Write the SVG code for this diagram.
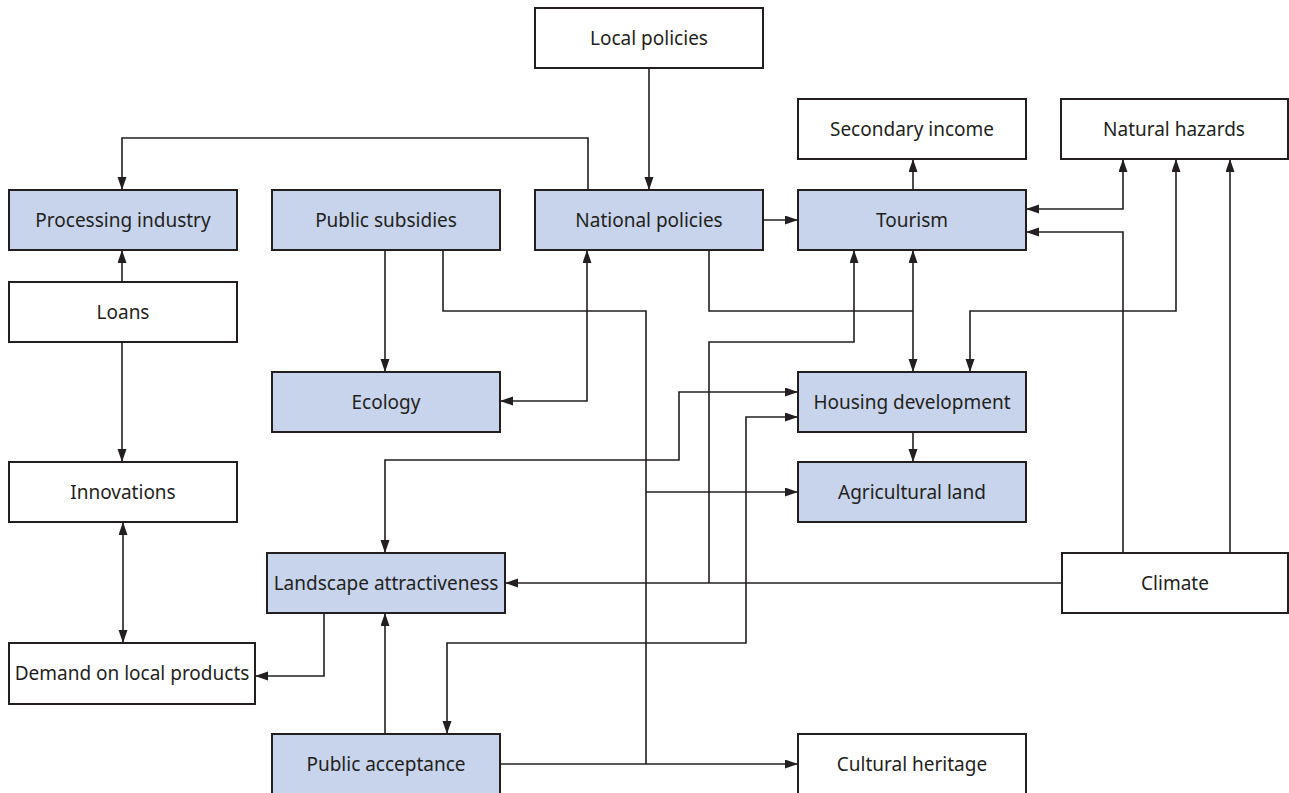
<svg xmlns="http://www.w3.org/2000/svg" width="1289" height="793" viewBox="0 0 1289 793">
<style>
.b rect{fill:#fff;stroke:#231f20;stroke-width:2}
.b.f rect{fill:#c7d4eb}
.b text{font-family:"Noto Sans","Open Sans",sans-serif;font-size:19px;fill:#231f20;text-anchor:middle}
#connectors path{fill:none;stroke:#231f20;stroke-width:1.6}
</style>
<defs>
<marker id="a" markerUnits="userSpaceOnUse" markerWidth="14" markerHeight="10" refX="13" refY="4.5" orient="auto-start-reverse"><path d="M0,0 L13,4.5 L0,9 z" fill="#231f20"/></marker>
</defs>
<rect width="1289" height="793" fill="#fff"/>
<g id="connectors">
<path d="M649,68 V190" marker-end="url(#a)"/>
<path d="M588,190 V138 H122 V190" marker-end="url(#a)"/>
<path d="M763,220 H798" marker-end="url(#a)"/>
<path d="M913,190 V159" marker-end="url(#a)"/>
<path d="M1123,159 V209 H1026" marker-start="url(#a)" marker-end="url(#a)"/>
<path d="M1123,553 V232 H1026" marker-end="url(#a)"/>
<path d="M1230,553 V159" marker-end="url(#a)"/>
<path d="M1176,159 V311 H970 V372" marker-start="url(#a)" marker-end="url(#a)"/>
<path d="M709,250 V311 H913"/>
<path d="M913,250 V372" marker-start="url(#a)" marker-end="url(#a)"/>
<path d="M1062,583 H505" marker-end="url(#a)"/>
<path d="M709,583 V342 H854 V250" marker-end="url(#a)"/>
<path d="M385,250 V372" marker-end="url(#a)"/>
<path d="M587,250 V401 H500" marker-start="url(#a)" marker-end="url(#a)"/>
<path d="M443,250 V311 H646 V764"/>
<path d="M646,492 H798" marker-end="url(#a)"/>
<path d="M500,764 H798" marker-end="url(#a)"/>
<path d="M798,392 H679 V460 H385 V553" marker-start="url(#a)" marker-end="url(#a)"/>
<path d="M798,417 H746 V643 H447 V734" marker-start="url(#a)" marker-end="url(#a)"/>
<path d="M324,613 V676 H255" marker-end="url(#a)"/>
<path d="M385,734 V613" marker-end="url(#a)"/>
<path d="M122,282 V250" marker-end="url(#a)"/>
<path d="M122,342 V462" marker-end="url(#a)"/>
<path d="M123,522 V643" marker-start="url(#a)" marker-end="url(#a)"/>
<path d="M913,432 V462" marker-end="url(#a)"/>
</g>
<g id="local-policies" class="b"><rect x="535" y="8" width="228" height="60"/><text x="649" y="45">Local policies</text></g>
<g id="processing-industry" class="b f"><rect x="9" y="190" width="228" height="60"/><text x="123" y="227">Processing industry</text></g>
<g id="public-subsidies" class="b f"><rect x="272" y="190" width="228" height="60"/><text x="386" y="227">Public subsidies</text></g>
<g id="national-policies" class="b f"><rect x="535" y="190" width="228" height="60"/><text x="649" y="227">National policies</text></g>
<g id="tourism" class="b f"><rect x="798" y="190" width="228" height="60"/><text x="912" y="227">Tourism</text></g>
<g id="secondary-income" class="b"><rect x="798" y="99" width="228" height="60"/><text x="912" y="136">Secondary income</text></g>
<g id="natural-hazards" class="b"><rect x="1061" y="99" width="227" height="60"/><text x="1174" y="136">Natural hazards</text></g>
<g id="loans" class="b"><rect x="9" y="282" width="228" height="60"/><text x="123" y="319">Loans</text></g>
<g id="ecology" class="b f"><rect x="272" y="372" width="228" height="60"/><text x="386" y="409">Ecology</text></g>
<g id="housing-development" class="b f"><rect x="798" y="372" width="228" height="60"/><text x="912" y="409">Housing development</text></g>
<g id="agricultural-land" class="b f"><rect x="798" y="462" width="228" height="60"/><text x="912" y="499">Agricultural land</text></g>
<g id="innovations" class="b"><rect x="9" y="462" width="228" height="60"/><text x="123" y="499">Innovations</text></g>
<g id="landscape-attractiveness" class="b f"><rect x="267" y="553" width="238" height="60"/><text x="386" y="590">Landscape attractiveness</text></g>
<g id="climate" class="b"><rect x="1062" y="553" width="226" height="60"/><text x="1175" y="590">Climate</text></g>
<g id="demand-on-local-products" class="b"><rect x="9" y="643" width="246" height="61"/><text x="132" y="680">Demand on local products</text></g>
<g id="public-acceptance" class="b f"><rect x="272" y="734" width="228" height="62"/><text x="386" y="771">Public acceptance</text></g>
<g id="cultural-heritage" class="b"><rect x="798" y="734" width="228" height="62"/><text x="912" y="771">Cultural heritage</text></g>
</svg>
